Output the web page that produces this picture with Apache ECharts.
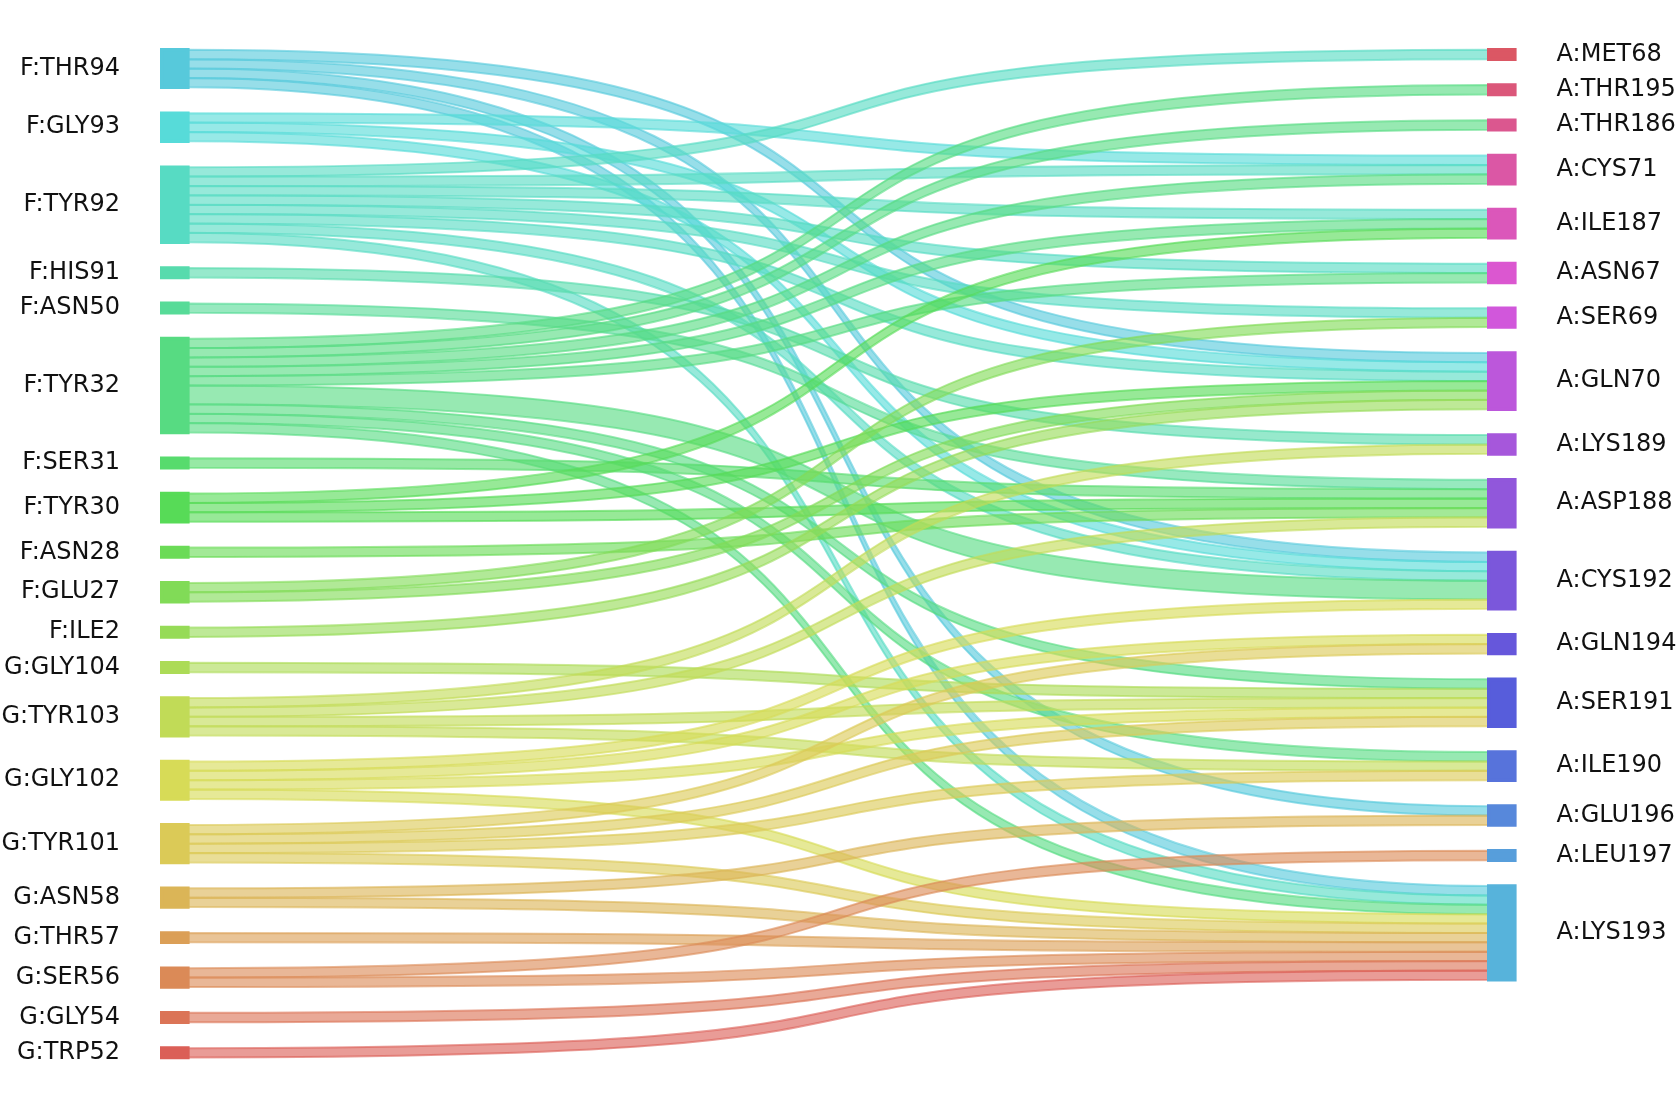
<!DOCTYPE html>
<html>
<head>
<meta charset="utf-8">
<script src="https://cdn.jsdelivr.net/npm/echarts@6/dist/echarts.min.js"></script>
<style>
html,body{margin:0;padding:0;background:#ffffff;}
#chart{width:1678px;height:1108px;}
</style>
</head>
<body>
<div id="chart"></div>
<script>
// ---- data ----
const leftNodes = ["F:THR94","F:GLY93","F:TYR92","F:HIS91","F:ASN50","F:TYR32","F:SER31","F:TYR30","F:ASN28","F:GLU27","F:ILE2","G:GLY104","G:TYR103","G:GLY102","G:TYR101","G:ASN58","G:THR57","G:SER56","G:GLY54","G:TRP52"];
const rightNodes = ["A:MET68","A:THR195","A:THR186","A:CYS71","A:ILE187","A:ASN67","A:SER69","A:GLN70","A:LYS189","A:ASP188","A:CYS192","A:GLN194","A:SER191","A:ILE190","A:GLU196","A:LEU197","A:LYS193"];

const linkSource = [
 "F:THR94","F:THR94","F:THR94","F:THR94",
 "F:GLY93","F:GLY93","F:GLY93",
 "F:TYR92","F:TYR92","F:TYR92","F:TYR92","F:TYR92","F:TYR92","F:TYR92","F:TYR92",
 "F:HIS91","F:ASN50",
 "F:TYR32","F:TYR32","F:TYR32","F:TYR32","F:TYR32","F:TYR32","F:TYR32","F:TYR32","F:TYR32",
 "F:SER31",
 "F:TYR30","F:TYR30","F:TYR30",
 "F:ASN28",
 "F:GLU27","F:GLU27",
 "F:ILE2",
 "G:GLY104",
 "G:TYR103","G:TYR103","G:TYR103","G:TYR103",
 "G:GLY102","G:GLY102","G:GLY102","G:GLY102",
 "G:TYR101","G:TYR101","G:TYR101","G:TYR101",
 "G:ASN58","G:ASN58",
 "G:THR57",
 "G:SER56","G:SER56",
 "G:GLY54",
 "G:TRP52"
];
const linkTarget = [
 "A:GLN70","A:CYS192","A:GLU196","A:LYS193",
 "A:CYS71","A:GLN70","A:CYS192",
 "A:MET68","A:CYS71","A:ILE187","A:ASN67","A:SER69","A:GLN70","A:CYS192","A:LYS193",
 "A:LYS189","A:ASP188",
 "A:THR195","A:THR186","A:CYS71","A:ILE187","A:ASN67","A:CYS192","A:SER191","A:ILE190","A:LYS193",
 "A:ASP188",
 "A:ILE187","A:GLN70","A:ASP188",
 "A:ASP188",
 "A:SER69","A:GLN70",
 "A:GLN70",
 "A:SER191",
 "A:LYS189","A:ASP188","A:SER191","A:ILE190",
 "A:CYS192","A:GLN194","A:SER191","A:LYS193",
 "A:GLN194","A:SER191","A:ILE190","A:LYS193",
 "A:GLU196","A:LYS193",
 "A:LYS193",
 "A:LEU197","A:LYS193",
 "A:LYS193",
 "A:LYS193"
];
const linkValue = [
 1,1,1,1,
 1,1,1,
 1,1,1,1,1,1,1,1,
 1,1,
 1,1,1,1,1,2,1,1,1,
 1,
 1,1,1,
 1,
 1,1,
 1,
 1,
 1,1,1,1,
 1,1,1,1,
 1,1,1,1,
 1,1,
 1,
 1,1,
 1,
 1
];

// ---- colours (evenly spaced HLS hues, l=0.6, s=0.65) ----
function hls2hex(h, l, s) {
  const c = (1 - Math.abs(2 * l - 1)) * s;
  const hp = h / 60;
  const x = c * (1 - Math.abs(hp % 2 - 1));
  let r = 0, g = 0, b = 0;
  if (hp < 1) { r = c; g = x; }
  else if (hp < 2) { r = x; g = c; }
  else if (hp < 3) { g = c; b = x; }
  else if (hp < 4) { g = x; b = c; }
  else if (hp < 5) { r = x; b = c; }
  else { r = c; b = x; }
  const m = l - c / 2;
  const to = v => Math.round((v + m) * 255).toString(16).padStart(2, '0');
  return '#' + to(r) + to(g) + to(b);
}
const hueOrder = rightNodes.concat(leftNodes);
const N = hueOrder.length;
const colorOf = {};
hueOrder.forEach((name, i) => {
  const k = N - 1 - i;
  const hue = ((k / N + 0.01) % 1) * 360;
  colorOf[name] = hls2hex(hue, 0.6, 0.65);
});

const nodeBorder = 3.6;
const nodes = leftNodes.map(n => ({
  name: n,
  itemStyle: { color: colorOf[n], borderColor: colorOf[n], borderWidth: nodeBorder },
  label: { position: 'left' }
})).concat(rightNodes.map(n => ({
  name: n,
  itemStyle: { color: colorOf[n], borderColor: colorOf[n], borderWidth: nodeBorder },
  label: { position: 'right' }
})));

const links = linkSource.map((s, i) => ({
  source: s,
  target: linkTarget[i],
  value: linkValue[i],
  lineStyle: { color: colorOf[s], borderColor: colorOf[s], borderWidth: 2 }
}));

const chart = echarts.init(document.getElementById('chart'), null, { renderer: 'canvas' });
chart.setOption({
  backgroundColor: '#ffffff',
  animation: false,
  series: [{
    type: 'sankey',
    left: 161.8,
    top: 49.8,
    width: 1353,
    height: 1007.7,
    nodeWidth: 26,
    nodeGap: 25.9,
    layoutIterations: 0,
    nodeAlign: 'justify',
    draggable: false,
    data: nodes,
    links: links,
    lineStyle: { curveness: 0.72, opacity: 0.62 },
    label: {
      fontFamily: 'DejaVu Sans',
      fontSize: 24,
      color: '#111111',
      distance: 40
    },
    emphasis: { disabled: true }
  }]
});
</script>
</body>
</html>
